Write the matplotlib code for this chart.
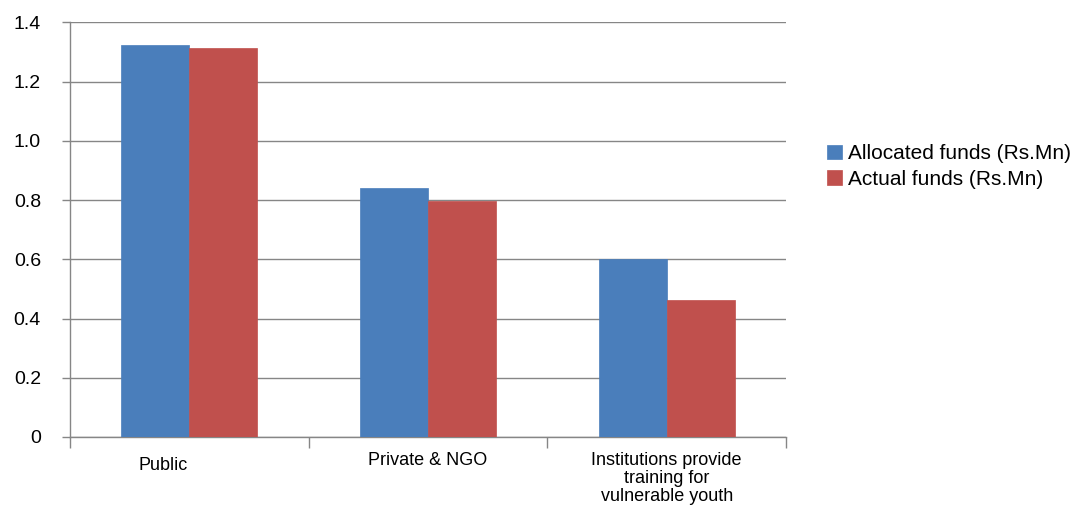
import numpy as np
import matplotlib.pyplot as plt
import matplotlib.transforms as mtransforms

plt.rcParams['font.family'] = ['Liberation Sans', 'DejaVu Sans']

categories = ['Public', 'Private & NGO', 'Institutions provide\ntraining for\nvulnerable youth']
allocated = [1.325, 0.84, 0.60]
actual = [1.313, 0.797, 0.462]
series_names = ['Allocated funds (Rs.Mn)', 'Actual funds (Rs.Mn)']

ind = np.arange(len(categories))
width = 0.285

fig = plt.figure(figsize=(10.76, 5.12), dpi=100)
ax = fig.add_axes([0.0651, 0.1465, 0.6654, 0.8099])

b1 = ax.bar(ind - width / 2, allocated, width, color='#4a7ebb', edgecolor='#4a7ebb', linewidth=0.5, zorder=3)
b2 = ax.bar(ind + width / 2, actual, width, color='#c0504d', edgecolor='#c0504d', linewidth=0.5, zorder=3)

ax.set_xlim(-0.5, len(categories) - 0.5)
ax.set_ylim(0, 1.4)
yt = np.arange(0, 1.41, 0.2)
ax.set_yticks(yt)
ax.set_yticklabels(['0'] + ['%.1f' % v for v in yt[1:]], fontsize=14)
ax.yaxis.grid(True, color='#868686', linewidth=1.0, zorder=0)
ax.tick_params(axis='y', length=6, color='#868686', width=1, pad=15, direction='out')

ax.set_xticks(ind)
ax.set_xticklabels(categories, fontsize=13, linespacing=1.05)
ax.tick_params(axis='x', which='major', length=0, pad=11)
ax.set_xticks(np.arange(-0.5, len(categories), 1.0), minor=True)
ax.tick_params(axis='x', which='minor', length=8, color='#868686', width=1, direction='out')

# Excel placed the first label a bit left of its group
lab0 = ax.get_xticklabels()[0]
lab0.set_transform(lab0.get_transform() + mtransforms.ScaledTranslation(-0.26, -0.05, fig.dpi_scale_trans))

for s in ['top', 'right']:
    ax.spines[s].set_visible(False)
for s in ['left', 'bottom']:
    ax.spines[s].set_color('#868686')
    ax.spines[s].set_linewidth(1)

fig.legend((b1[0], b2[0]), series_names, loc='center left', bbox_to_anchor=(0.761, 0.675),
           frameon=False, fontsize=15, handlelength=0.7, handleheight=0.7,
           handletextpad=0.3, labelspacing=0.3, borderaxespad=0)

fig.savefig('out.png', dpi=100)
